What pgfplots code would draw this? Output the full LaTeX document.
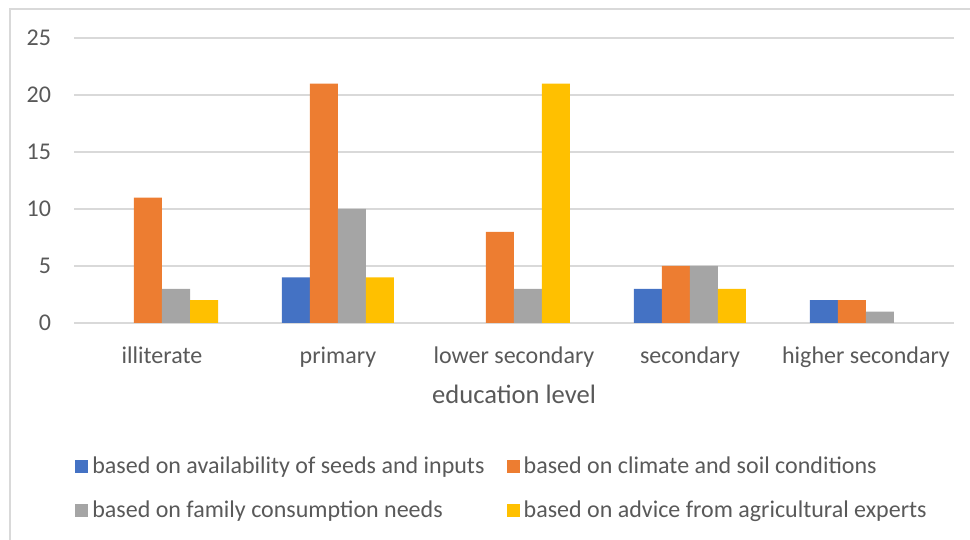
\documentclass[border=0pt]{standalone}
\usepackage{pgfplots}
\pgfplotsset{compat=1.18}
\usepackage{fontspec}
\setmainfont{Carlito}
\definecolor{cblue}{HTML}{4472C4}
\definecolor{corange}{HTML}{ED7D31}
\definecolor{cgray}{HTML}{A5A5A5}
\definecolor{cyellow}{HTML}{FFC000}
\definecolor{ctext}{HTML}{595959}
\definecolor{cgrid}{HTML}{D9D9D9}
\begin{document}
\begin{tikzpicture}
\useasboundingbox (0,0) rectangle (485pt,270pt);
\draw[cgrid, line width=0.75pt] (5pt,-20pt) rectangle (520pt,265.5pt);
\begin{axis}[
  at={(37pt,108.5pt)}, anchor=south west,
  scale only axis,
  width=440pt, height=142.5pt,
  ybar=0pt, bar width=14pt,
  xmin=-0.5, xmax=4.5, ymin=0, ymax=25,
  xtick={0,1,2,3,4},
  xticklabels={illiterate,primary,lower secondary,secondary,higher secondary},
  ytick={0,5,10,15,20,25},
  ymajorgrids, grid style={cgrid, line width=0.75pt},
  axis x line*=bottom, axis y line*=left,
  x axis line style={cgrid, line width=0.75pt},
  y axis line style={draw=none},
  major tick length=0pt,
  tick label style={font=\fontsize{12}{14}\selectfont, text=ctext},
  /pgf/number format/assume math mode=true,
  yticklabel style={xshift=-8pt},
  xticklabel style={yshift=-8.5pt},
  xlabel={education level},
  xlabel style={font=\fontsize{13.3}{15}\selectfont, text=ctext, yshift=-1.5pt},
  legend columns=2,
  legend cell align=left,
  legend style={at={(-0.006,-0.44)}, anchor=north west, draw=none, fill=none,
    font=\fontsize{12}{14}\selectfont, text=ctext,
    /tikz/every even column/.append style={column sep=9pt},
    row sep=8pt},
  legend image code/.code={\fill[#1] (0pt,-3.3pt) rectangle (6.6pt,3.3pt);},
]
\addplot[fill=cblue, draw=none] coordinates {(1,4) (3,3) (4,2)};
\addplot[fill=corange, draw=none] coordinates {(0,11) (1,21) (2,8) (3,5) (4,2)};
\addplot[fill=cgray, draw=none] coordinates {(0,3) (1,10) (2,3) (3,5) (4,1)};
\addplot[fill=cyellow, draw=none] coordinates {(0,2) (1,4) (2,21) (3,3)};
\legend{based on availability of seeds and inputs, based on climate and soil conditions, based on family consumption needs, based on advice from agricultural experts}
\end{axis}
\end{tikzpicture}
\end{document}
